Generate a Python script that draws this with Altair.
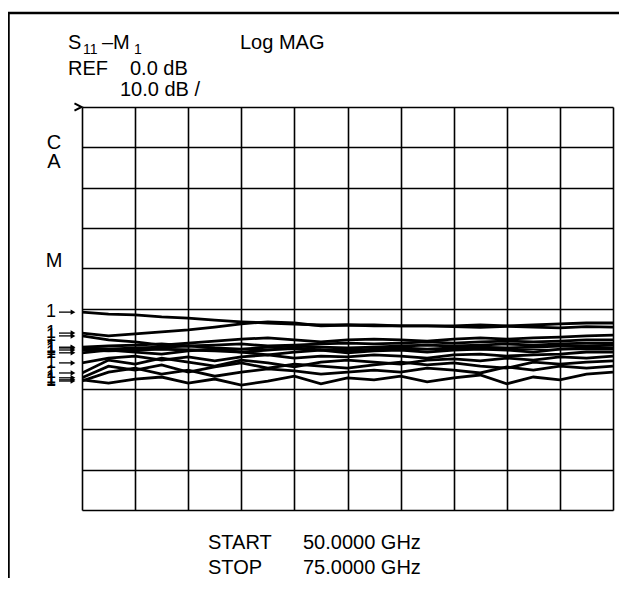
import altair as alt
import pandas as pd

# ---- data ----
freq_ghz = [50.0, 51.25, 52.5, 53.75, 55.0, 56.25, 57.5, 58.75, 60.0, 61.25, 62.5,
            63.75, 65.0, 66.25, 67.5, 68.75, 70.0, 71.25, 72.5, 73.75, 75.0]

x_ticks = [50.0, 52.5, 55.0, 57.5, 60.0, 62.5, 65.0, 67.5, 70.0, 72.5, 75.0]
y_ticks = [0, -10, -20, -30, -40, -50, -60, -70, -80, -90, -100]

trace_01 = [-50.9, -51.4, -51.6, -52.1, -52.4, -52.9, -53.3, -53.6, -53.9, -54.1, -54.1,
            -54.3, -54.3, -54.3, -54.5, -54.7, -54.4, -54.6, -54.8, -54.5, -54.6]
trace_02 = [-56.1, -56.8, -56.3, -55.8, -55.3, -54.6, -53.8, -53.3, -53.6, -54.3, -54.1,
            -54.1, -54.3, -54.3, -54.3, -54.1, -54.3, -54.1, -53.8, -53.6, -53.6]
trace_03 = [-56.8, -57.8, -58.3, -59.1, -58.6, -58.1, -57.6, -57.3, -57.8, -58.3, -57.8,
            -57.6, -57.8, -58.1, -57.6, -57.3, -57.6, -57.3, -57.1, -56.8, -56.6]
trace_04 = [-59.6, -59.3, -59.1, -58.8, -59.3, -59.1, -58.8, -59.3, -59.1, -58.8, -58.6,
            -58.8, -58.6, -58.3, -58.6, -58.3, -58.1, -58.3, -58.1, -57.8, -57.8]
trace_05 = [-59.8, -60.1, -59.8, -59.6, -59.3, -59.8, -60.1, -59.6, -59.3, -59.6, -59.8,
            -59.6, -59.3, -59.1, -59.3, -59.1, -58.8, -59.1, -58.8, -58.6, -58.6]
trace_06 = [-60.3, -60.5, -60.3, -60.1, -60.3, -60.5, -60.8, -60.3, -59.8, -60.3, -60.5,
            -60.1, -59.8, -60.1, -59.8, -59.6, -59.8, -59.6, -59.3, -59.3, -59.1]
trace_07 = [-61.0, -60.3, -60.8, -61.3, -60.5, -60.1, -60.8, -61.5, -60.8, -60.3, -61.0,
            -60.5, -60.3, -60.8, -60.3, -60.1, -60.3, -60.8, -60.1, -59.8, -59.8]
trace_08 = [-63.5, -62.3, -61.8, -62.8, -62.0, -63.0, -62.0, -61.5, -62.3, -61.8, -62.0,
            -61.5, -61.8, -62.3, -61.5, -61.3, -61.8, -61.5, -61.3, -60.8, -60.8]
trace_09 = [-66.0, -62.8, -63.8, -62.3, -63.3, -64.3, -62.8, -63.5, -64.5, -63.3, -62.8,
            -63.3, -63.8, -62.8, -62.5, -63.0, -62.3, -62.8, -62.0, -62.3, -61.8]
trace_10 = [-67.2, -64.3, -65.3, -64.0, -65.8, -64.5, -63.5, -64.8, -63.8, -64.3, -64.8,
            -64.0, -63.3, -64.0, -63.5, -64.3, -64.8, -63.3, -63.8, -63.3, -63.0]
trace_11 = [-68.0, -65.8, -64.8, -66.3, -65.3, -66.8, -65.8, -65.0, -65.5, -66.3, -65.8,
            -65.3, -65.8, -64.8, -65.3, -66.0, -64.5, -65.3, -64.3, -64.8, -64.3]
trace_12 = [-67.7, -68.5, -67.5, -67.0, -68.5, -67.5, -69.0, -68.0, -66.8, -68.7, -67.2,
            -67.7, -66.8, -68.2, -67.2, -66.5, -68.7, -67.0, -67.7, -66.3, -65.8]

traces = {
    "t01": trace_01, "t02": trace_02, "t03": trace_03, "t04": trace_04,
    "t05": trace_05, "t06": trace_06, "t07": trace_07, "t08": trace_08,
    "t09": trace_09, "t10": trace_10, "t11": trace_11, "t12": trace_12,
}

rows = []
for name, vals in traces.items():
    for f, v in zip(freq_ghz, vals):
        rows.append({"trace": name, "freq": f, "db": v})
df = pd.DataFrame(rows)

markers = pd.DataFrame({"trace": list(traces.keys()),
                        "db": [vals[0] for vals in traces.values()]})

one = pd.DataFrame({"k": [0]})

FONT = "Liberation Sans"

x_enc = alt.X("freq:Q", title="",
              scale=alt.Scale(domain=[50, 75], nice=False, zero=False),
              axis=alt.Axis(values=x_ticks, grid=True, labels=False, ticks=False,
                            domain=False, gridColor="black", gridWidth=1.6,
                            gridOpacity=1))
y_axis = alt.Axis(values=y_ticks, grid=True, labels=False, ticks=False,
                  domain=False, gridColor="black", gridWidth=1.6, gridOpacity=1)
y_scale = alt.Scale(domain=[-100, 0], nice=False, zero=False)


def y_enc():
    return alt.Y("db:Q", title="", scale=y_scale, axis=y_axis)


lines = alt.Chart(df).mark_line(color="black", strokeWidth=2.8, clip=True).encode(
    x=x_enc, y=y_enc(), detail="trace:N")

mk_text = alt.Chart(markers).mark_text(
    text="1", font=FONT, fontSize=18, align="right", baseline="middle",
    color="black").encode(x=alt.value(-26), y=y_enc())
mk_rule = alt.Chart(markers).mark_rule(color="black", strokeWidth=1.3).encode(
    x=alt.value(-23), x2=alt.value(-10), y=y_enc())
mk_head = alt.Chart(markers).mark_point(
    shape="triangle-right", filled=True, size=30, color="black", opacity=1).encode(
    x=alt.value(-9), y=y_enc())

ref_mark = alt.Chart(one).mark_point(
    shape="M-1,-1L1,0L-1,1", filled=False, size=50, strokeWidth=2,
    color="black", opacity=1).encode(x=alt.value(-4), y=alt.value(0))


def label(txt, x, y, size=20, align="left"):
    return alt.Chart(one).mark_text(
        text=txt, font=FONT, fontSize=size, align=align, baseline="alphabetic",
        color="black").encode(x=alt.value(x), y=alt.value(y))


texts = [
    label("S", -14, -58),
    label("11", 1, -53, size=14),
    label("\u2013M", 20, -58),
    label("1", 52, -53, size=14),
    label("Log MAG", 158, -58),
    label("REF", -14, -32),
    label("0.0 dB", 48, -32),
    label("10.0 dB /", 38, -11),
    label("C", -28, 42, align="center"),
    label("A", -28, 61, align="center"),
    label("M", -28, 160, align="center"),
    label("START", 126, 442),
    label("50.0000 GHz", 221, 442),
    label("STOP", 126, 467),
    label("75.0000 GHz", 221, 467),
]

frame_left = alt.Chart(one).mark_rule(color="black", strokeWidth=2.5).encode(
    x=alt.value(-73.5), y=alt.value(-95), y2=alt.value(520))
frame_top = alt.Chart(one).mark_rule(color="black", strokeWidth=2.5).encode(
    x=alt.value(-74.5), x2=alt.value(620), y=alt.value(-94))

chart = alt.layer(
    lines, mk_rule, mk_head, mk_text, ref_mark, frame_left, frame_top, *texts
).properties(
    width=531, height=403,
    padding={"left": 74, "top": 99, "right": 6, "bottom": 68},
    autosize=alt.AutoSizeParams(type="none"),
).configure_view(
    stroke="black", strokeWidth=3
).configure(background="white")

chart.save("out.html", embed_options={"renderer": "svg", "actions": False})
